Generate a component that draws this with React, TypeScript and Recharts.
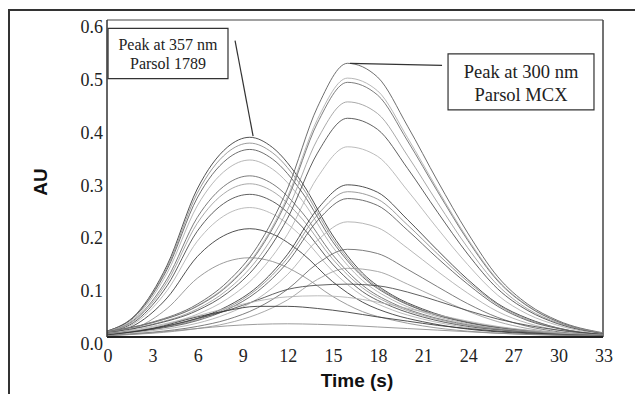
import React from 'react';
import { LineChart, Line, XAxis, YAxis, ReferenceLine, ReferenceArea } from 'recharts';

// sample times (s) for each family of runs
const time1789 = [0, 2, 4, 6, 8, 9.5, 11, 13, 15, 17, 19, 21, 24, 27, 30, 33];
const timeMCX = [0, 3, 6, 8, 10, 12, 14, 16, 18, 20, 22, 24, 26, 28, 30, 33];

// Parsol 1789 runs (peak near 9.5 s)
const runs1789 = [
  [0.011, 0.045, 0.136, 0.28, 0.359, 0.378, 0.359, 0.291, 0.193, 0.121, 0.079, 0.053, 0.028, 0.015, 0.008, 0.004],
  [0.011, 0.044, 0.132, 0.272, 0.349, 0.367, 0.349, 0.283, 0.187, 0.117, 0.077, 0.051, 0.028, 0.015, 0.007, 0.004],
  [0.011, 0.043, 0.128, 0.263, 0.337, 0.355, 0.337, 0.273, 0.181, 0.114, 0.075, 0.05, 0.027, 0.014, 0.007, 0.004],
  [0.01, 0.04, 0.121, 0.248, 0.318, 0.335, 0.318, 0.258, 0.171, 0.107, 0.07, 0.047, 0.025, 0.013, 0.007, 0.003],
  [0.009, 0.037, 0.11, 0.226, 0.29, 0.305, 0.29, 0.235, 0.156, 0.098, 0.064, 0.043, 0.023, 0.012, 0.006, 0.003],
  [0.009, 0.035, 0.104, 0.215, 0.276, 0.29, 0.276, 0.223, 0.148, 0.093, 0.061, 0.041, 0.022, 0.012, 0.006, 0.003],
  [0.008, 0.032, 0.097, 0.2, 0.257, 0.27, 0.257, 0.208, 0.138, 0.086, 0.057, 0.038, 0.02, 0.011, 0.005, 0.003],
  [0.007, 0.029, 0.088, 0.181, 0.233, 0.245, 0.233, 0.189, 0.125, 0.078, 0.051, 0.034, 0.018, 0.01, 0.005, 0.002],
  [0.006, 0.025, 0.074, 0.152, 0.195, 0.205, 0.195, 0.158, 0.105, 0.066, 0.043, 0.029, 0.015, 0.008, 0.004, 0.002],
  [0.005, 0.018, 0.054, 0.111, 0.143, 0.15, 0.143, 0.116, 0.077, 0.048, 0.032, 0.021, 0.011, 0.006, 0.003, 0.002],
];

// Parsol MCX runs (peak near 16 s) plus the low broad traces
const runsMCX = [
  [0.01, 0.028, 0.062, 0.104, 0.171, 0.28, 0.435, 0.518, 0.492, 0.399, 0.295, 0.197, 0.114, 0.062, 0.031, 0.008],
  [0.01, 0.027, 0.059, 0.098, 0.162, 0.265, 0.412, 0.49, 0.466, 0.377, 0.279, 0.186, 0.108, 0.059, 0.029, 0.007],
  [0.01, 0.027, 0.058, 0.096, 0.159, 0.26, 0.405, 0.482, 0.458, 0.371, 0.275, 0.183, 0.106, 0.058, 0.029, 0.007],
  [0.009, 0.024, 0.053, 0.089, 0.147, 0.24, 0.374, 0.445, 0.423, 0.343, 0.254, 0.169, 0.098, 0.053, 0.027, 0.007],
  [0.008, 0.023, 0.05, 0.083, 0.137, 0.224, 0.348, 0.414, 0.393, 0.319, 0.236, 0.157, 0.091, 0.05, 0.025, 0.006],
  [0.007, 0.02, 0.043, 0.072, 0.119, 0.194, 0.302, 0.36, 0.342, 0.277, 0.205, 0.137, 0.079, 0.043, 0.022, 0.005],
  [0.006, 0.016, 0.035, 0.058, 0.095, 0.156, 0.242, 0.288, 0.274, 0.222, 0.164, 0.109, 0.063, 0.035, 0.017, 0.004],
  [0.006, 0.015, 0.033, 0.055, 0.091, 0.149, 0.231, 0.275, 0.261, 0.212, 0.157, 0.105, 0.061, 0.033, 0.017, 0.004],
  [0.005, 0.014, 0.031, 0.052, 0.086, 0.141, 0.22, 0.262, 0.249, 0.202, 0.149, 0.1, 0.058, 0.031, 0.016, 0.004],
  [0.004, 0.012, 0.026, 0.044, 0.072, 0.118, 0.183, 0.218, 0.207, 0.168, 0.124, 0.083, 0.048, 0.026, 0.013, 0.003],
  [0.003, 0.009, 0.02, 0.033, 0.055, 0.09, 0.139, 0.166, 0.158, 0.128, 0.095, 0.063, 0.037, 0.02, 0.01, 0.002],
  [0.003, 0.007, 0.016, 0.026, 0.043, 0.07, 0.109, 0.13, 0.124, 0.1, 0.074, 0.049, 0.029, 0.016, 0.008, 0.002],
  [0.005, 0.015, 0.035, 0.05, 0.07, 0.09, 0.098, 0.1, 0.097, 0.085, 0.068, 0.05, 0.034, 0.022, 0.013, 0.005],
  [0.005, 0.018, 0.04, 0.055, 0.068, 0.076, 0.078, 0.075, 0.066, 0.054, 0.042, 0.03, 0.02, 0.013, 0.008, 0.004],
  [0.004, 0.016, 0.038, 0.05, 0.058, 0.058, 0.054, 0.047, 0.038, 0.03, 0.022, 0.016, 0.011, 0.008, 0.005, 0.003],
  [0.002, 0.008, 0.016, 0.021, 0.024, 0.025, 0.024, 0.022, 0.019, 0.016, 0.013, 0.01, 0.007, 0.005, 0.004, 0.002],
];

const xTicks = [0, 3, 6, 9, 12, 15, 18, 21, 24, 27, 30, 33];
const yTicks = [0, 0.1, 0.2, 0.3, 0.4, 0.5, 0.6];

const grays = ['#333', '#8a8a8a', '#555', '#aaa', '#666', '#999', '#444', '#b0b0b0'];
const serif = '"Liberation Serif", "Times New Roman", serif';
const sans = '"Liberation Sans", Arial, sans-serif';

const toPoints = (times: number[], vals: number[]) => vals.map((v, i) => ({ t: times[i], v }));

const series = [
  ...runs1789.map((r) => toPoints(time1789, r)),
  ...runsMCX.map((r) => toPoints(timeMCX, r)),
];

const XTick = ({ x, y, payload }: any) => (
  <text x={x + 1} y={y + 19} textAnchor="middle" dominantBaseline="central" fontFamily={serif} fontSize={18} fill="#222">
    {payload.value}
  </text>
);

const YTick = ({ x, y, payload }: any) => (
  <text x={x} y={y + 7} textAnchor="end" dominantBaseline="central" fontFamily={serif} fontSize={18} fill="#222">
    {Number(payload.value).toFixed(1)}
  </text>
);

const boxLabel = (lines: string[], size: number, first: number, gap: number) => (props: any) => {
  const { x, y, width } = props.viewBox;
  return (
    <g>
      {lines.map((s, i) => (
        <text key={i} x={x + width / 2} y={y + first + i * gap} textAnchor="middle" fontFamily={serif} fontSize={size} fill="#222">
          {s}
        </text>
      ))}
    </g>
  );
};

const App: React.FC = () => {
  return (
    <div style={{ position: 'relative', width: 635, height: 394, overflow: 'hidden', background: '#fff' }}>
      <style>{'body{margin:0}'}</style>
      <div style={{ position: 'absolute', left: 8, top: 9, width: 700, height: 500, borderLeft: '2px solid #333', borderTop: '2px solid #333' }} />
      <LineChart width={635} height={394} margin={{ top: 20, right: 32, bottom: 0, left: 0 }} style={{ position: 'absolute', left: 0, top: 0 }}>
        <XAxis
          type="number"
          dataKey="t"
          domain={[0, 33]}
          ticks={xTicks}
          allowDuplicatedCategory={false}
          tickLine={false}
          tickSize={0}
          tickMargin={0}
          tick={<XTick />}
          axisLine={{ stroke: '#222', strokeWidth: 2 }}
          height={57}
          label={() => (
            <text x={357} y={387} textAnchor="middle" fontFamily={sans} fontWeight="bold" fontSize={19} fill="#111">
              Time (s)
            </text>
          )}
        />
        <YAxis
          type="number"
          domain={[0, 0.6]}
          ticks={yTicks}
          tickLine={false}
          tickSize={0}
          tickMargin={4}
          tick={<YTick />}
          axisLine={{ stroke: '#333', strokeWidth: 1.5 }}
          width={107}
          label={() => (
            <text x={47} y={182} transform="rotate(-90 47 182)" textAnchor="middle" fontFamily={sans} fontWeight="bold" fontSize={19} fill="#111">
              AU
            </text>
          )}
        />
        <ReferenceLine y={0.6} stroke="#444" strokeWidth={1.2} />
        <ReferenceLine x={33} stroke="#444" strokeWidth={1.5} />
        {series.map((d, i) => (
          <Line
            key={i}
            data={d}
            dataKey="v"
            type="monotone"
            stroke={grays[i % grays.length]}
            strokeWidth={0.85}
            dot={false}
            isAnimationActive={false}
          />
        ))}
        <ReferenceLine segment={[{ x: 8.52, y: 0.561 }, { x: 9.72, y: 0.38 }]} stroke="#333" strokeWidth={1.2} />
        <ReferenceLine segment={[{ x: 16.17, y: 0.518 }, { x: 22.29, y: 0.514 }]} stroke="#333" strokeWidth={1.2} />
        <ReferenceArea
          x1={0.07}
          x2={8.05}
          y1={0.489}
          y2={0.584}
          fill="#fff"
          fillOpacity={1}
          stroke="#333"
          strokeWidth={1.2}
          label={boxLabel(['Peak at 357 nm', 'Parsol 1789'], 16, 22, 19)}
        />
        <ReferenceArea
          x1={22.69}
          x2={32.4}
          y1={0.43}
          y2={0.536}
          fill="#fff"
          fillOpacity={1}
          stroke="#333"
          strokeWidth={1.2}
          label={boxLabel(['Peak at 300 nm', 'Parsol MCX'], 18.5, 24, 23)}
        />
      </LineChart>
    </div>
  );
};

export default App;
